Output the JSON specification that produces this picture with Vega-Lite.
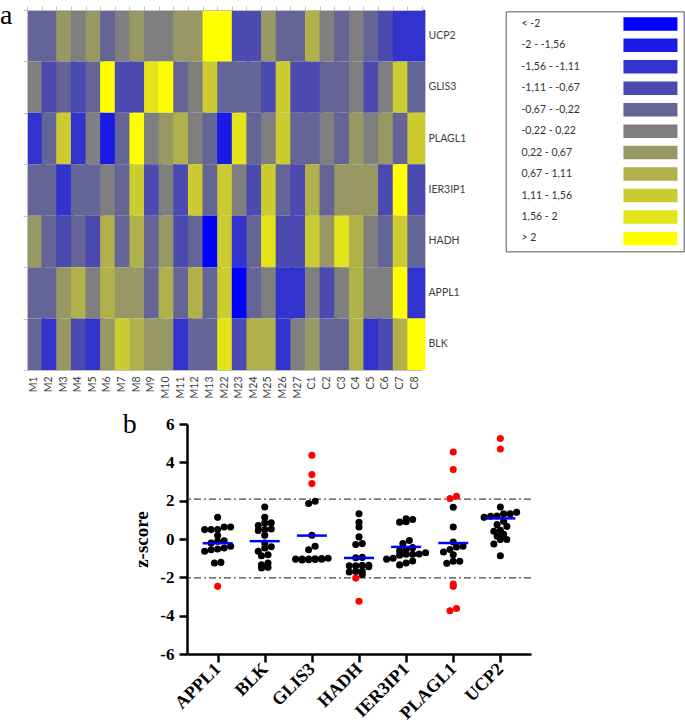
{
  "$schema": "https://vega.github.io/schema/vega-lite/v6.json",
  "padding": {"left": 0, "top": 1, "right": 0, "bottom": 0},
  "config": {"view": {"stroke": null}, "font": "Lato"},
  "datasets": {
    "bins": [
      {"k": 0, "range": "< -2"}, {"k": 1, "range": "-2 - -1,56"}, {"k": 2, "range": "-1,56 - -1,11"},
      {"k": 3, "range": "-1,11 - -0,67"}, {"k": 4, "range": "-0,67 - -0,22"}, {"k": 5, "range": "-0,22 - 0,22"},
      {"k": 6, "range": "0,22 - 0,67"}, {"k": 7, "range": "0,67 - 1,11"}, {"k": 8, "range": "1,11 - 1,56"},
      {"k": 9, "range": "1,56 - 2"}, {"k": 10, "range": "> 2"}
    ],
    "samples": [
      {"s": "M1", "UCP2": 4, "GLIS3": 5, "PLAGL1": 2, "IER3IP1": 4, "HADH": 6, "APPL1": 4, "BLK": 4},
      {"s": "M2", "UCP2": 4, "GLIS3": 3, "PLAGL1": 4, "IER3IP1": 4, "HADH": 4, "APPL1": 4, "BLK": 2},
      {"s": "M3", "UCP2": 6, "GLIS3": 4, "PLAGL1": 8, "IER3IP1": 2, "HADH": 3, "APPL1": 6, "BLK": 6},
      {"s": "M4", "UCP2": 5, "GLIS3": 3, "PLAGL1": 2, "IER3IP1": 4, "HADH": 4, "APPL1": 7, "BLK": 3},
      {"s": "M5", "UCP2": 6, "GLIS3": 4, "PLAGL1": 5, "IER3IP1": 4, "HADH": 3, "APPL1": 5, "BLK": 2},
      {"s": "M6", "UCP2": 4, "GLIS3": 10, "PLAGL1": 1, "IER3IP1": 5, "HADH": 7, "APPL1": 7, "BLK": 6},
      {"s": "M7", "UCP2": 5, "GLIS3": 3, "PLAGL1": 4, "IER3IP1": 4, "HADH": 4, "APPL1": 6, "BLK": 8},
      {"s": "M8", "UCP2": 6, "GLIS3": 3, "PLAGL1": 10, "IER3IP1": 8, "HADH": 7, "APPL1": 6, "BLK": 7},
      {"s": "M9", "UCP2": 5, "GLIS3": 9, "PLAGL1": 5, "IER3IP1": 3, "HADH": 4, "APPL1": 4, "BLK": 6},
      {"s": "M10", "UCP2": 5, "GLIS3": 10, "PLAGL1": 6, "IER3IP1": 5, "HADH": 6, "APPL1": 7, "BLK": 6},
      {"s": "M11", "UCP2": 6, "GLIS3": 4, "PLAGL1": 7, "IER3IP1": 3, "HADH": 3, "APPL1": 4, "BLK": 2},
      {"s": "M12", "UCP2": 6, "GLIS3": 5, "PLAGL1": 5, "IER3IP1": 8, "HADH": 4, "APPL1": 7, "BLK": 4},
      {"s": "M13", "UCP2": 10, "GLIS3": 8, "PLAGL1": 4, "IER3IP1": 4, "HADH": 0, "APPL1": 4, "BLK": 4},
      {"s": "M22", "UCP2": 10, "GLIS3": 4, "PLAGL1": 1, "IER3IP1": 8, "HADH": 8, "APPL1": 8, "BLK": 9},
      {"s": "M23", "UCP2": 3, "GLIS3": 4, "PLAGL1": 9, "IER3IP1": 5, "HADH": 2, "APPL1": 0, "BLK": 3},
      {"s": "M24", "UCP2": 3, "GLIS3": 4, "PLAGL1": 4, "IER3IP1": 3, "HADH": 4, "APPL1": 4, "BLK": 7},
      {"s": "M25", "UCP2": 6, "GLIS3": 3, "PLAGL1": 5, "IER3IP1": 8, "HADH": 9, "APPL1": 5, "BLK": 7},
      {"s": "M26", "UCP2": 4, "GLIS3": 8, "PLAGL1": 8, "IER3IP1": 4, "HADH": 3, "APPL1": 2, "BLK": 2},
      {"s": "M27", "UCP2": 4, "GLIS3": 3, "PLAGL1": 4, "IER3IP1": 3, "HADH": 3, "APPL1": 2, "BLK": 5},
      {"s": "C1", "UCP2": 7, "GLIS3": 3, "PLAGL1": 4, "IER3IP1": 7, "HADH": 8, "APPL1": 5, "BLK": 6},
      {"s": "C2", "UCP2": 5, "GLIS3": 4, "PLAGL1": 5, "IER3IP1": 4, "HADH": 6, "APPL1": 3, "BLK": 4},
      {"s": "C3", "UCP2": 4, "GLIS3": 4, "PLAGL1": 4, "IER3IP1": 6, "HADH": 9, "APPL1": 5, "BLK": 4},
      {"s": "C4", "UCP2": 5, "GLIS3": 5, "PLAGL1": 6, "IER3IP1": 6, "HADH": 7, "APPL1": 7, "BLK": 7},
      {"s": "C5", "UCP2": 4, "GLIS3": 3, "PLAGL1": 5, "IER3IP1": 6, "HADH": 5, "APPL1": 5, "BLK": 2},
      {"s": "C6", "UCP2": 3, "GLIS3": 5, "PLAGL1": 6, "IER3IP1": 3, "HADH": 4, "APPL1": 5, "BLK": 3},
      {"s": "C7", "UCP2": 2, "GLIS3": 8, "PLAGL1": 4, "IER3IP1": 10, "HADH": 8, "APPL1": 10, "BLK": 7},
      {"s": "C8", "UCP2": 2, "GLIS3": 4, "PLAGL1": 8, "IER3IP1": 3, "HADH": 4, "APPL1": 2, "BLK": 10}
    ],
    "scores": [
      {"g": "APPL1", "z": 1.13}, {"g": "APPL1", "z": 0.63}, {"g": "APPL1", "z": 0.63}, {"g": "APPL1", "z": 0.49},
      {"g": "APPL1", "z": 0.49}, {"g": "APPL1", "z": 0.49}, {"g": "APPL1", "z": 0.18}, {"g": "APPL1", "z": -0.09},
      {"g": "APPL1", "z": -0.12}, {"g": "APPL1", "z": -0.21}, {"g": "APPL1", "z": -0.38}, {"g": "APPL1", "z": -0.64},
      {"g": "APPL1", "z": -0.56}, {"g": "APPL1", "z": -0.52}, {"g": "APPL1", "z": -0.47}, {"g": "APPL1", "z": -1.25},
      {"g": "APPL1", "z": -1.22}, {"g": "APPL1", "z": -2.47},
      {"g": "BLK", "z": 1.67}, {"g": "BLK", "z": 1.13}, {"g": "BLK", "z": 0.84}, {"g": "BLK", "z": 0.84},
      {"g": "BLK", "z": 0.70}, {"g": "BLK", "z": 0.52}, {"g": "BLK", "z": 0.49}, {"g": "BLK", "z": 0.45},
      {"g": "BLK", "z": 0.20}, {"g": "BLK", "z": -0.21}, {"g": "BLK", "z": -0.47}, {"g": "BLK", "z": -0.40},
      {"g": "BLK", "z": -0.87}, {"g": "BLK", "z": -0.82}, {"g": "BLK", "z": -0.64}, {"g": "BLK", "z": -1.34},
      {"g": "BLK", "z": -1.25}, {"g": "BLK", "z": -1.48}, {"g": "BLK", "z": -1.51},
      {"g": "GLIS3", "z": 4.37}, {"g": "GLIS3", "z": 3.36}, {"g": "GLIS3", "z": 2.89}, {"g": "GLIS3", "z": 1.97},
      {"g": "GLIS3", "z": 1.85}, {"g": "GLIS3", "z": 0.2}, {"g": "GLIS3", "z": -0.38}, {"g": "GLIS3", "z": -0.56},
      {"g": "GLIS3", "z": -1.0}, {"g": "GLIS3", "z": -1.02}, {"g": "GLIS3", "z": -1.03}, {"g": "GLIS3", "z": -1.04},
      {"g": "GLIS3", "z": -1.05}, {"g": "GLIS3", "z": -1.05}, {"g": "GLIS3", "z": -1.06}, {"g": "GLIS3", "z": -1.07},
      {"g": "GLIS3", "z": -1.08}, {"g": "GLIS3", "z": -1.1},
      {"g": "HADH", "z": 1.32}, {"g": "HADH", "z": 0.87}, {"g": "HADH", "z": 0.63}, {"g": "HADH", "z": 0.11},
      {"g": "HADH", "z": -0.24}, {"g": "HADH", "z": -0.29}, {"g": "HADH", "z": -0.96}, {"g": "HADH", "z": -0.98},
      {"g": "HADH", "z": -1.37}, {"g": "HADH", "z": -1.40}, {"g": "HADH", "z": -1.40}, {"g": "HADH", "z": -1.37},
      {"g": "HADH", "z": -1.45}, {"g": "HADH", "z": -1.69}, {"g": "HADH", "z": -1.72}, {"g": "HADH", "z": -1.69},
      {"g": "HADH", "z": -1.85}, {"g": "HADH", "z": -2.04}, {"g": "HADH", "z": -3.25},
      {"g": "IER3IP1", "z": 1.02}, {"g": "IER3IP1", "z": 1.06}, {"g": "IER3IP1", "z": 0.90}, {"g": "IER3IP1", "z": 0.88},
      {"g": "IER3IP1", "z": -0.08}, {"g": "IER3IP1", "z": -0.24}, {"g": "IER3IP1", "z": -0.45}, {"g": "IER3IP1", "z": -0.55},
      {"g": "IER3IP1", "z": -0.72}, {"g": "IER3IP1", "z": -0.80}, {"g": "IER3IP1", "z": -0.85}, {"g": "IER3IP1", "z": -0.78},
      {"g": "IER3IP1", "z": -0.80}, {"g": "IER3IP1", "z": -1.05}, {"g": "IER3IP1", "z": -1.0}, {"g": "IER3IP1", "z": -1.25},
      {"g": "IER3IP1", "z": -1.15}, {"g": "IER3IP1", "z": -1.35}, {"g": "IER3IP1", "z": -0.62},
      {"g": "PLAGL1", "z": 4.54}, {"g": "PLAGL1", "z": 3.62}, {"g": "PLAGL1", "z": 2.23}, {"g": "PLAGL1", "z": 2.11},
      {"g": "PLAGL1", "z": -2.47}, {"g": "PLAGL1", "z": -2.35}, {"g": "PLAGL1", "z": -3.74}, {"g": "PLAGL1", "z": -3.63},
      {"g": "PLAGL1", "z": 1.66}, {"g": "PLAGL1", "z": 0.63}, {"g": "PLAGL1", "z": -0.16}, {"g": "PLAGL1", "z": -0.38},
      {"g": "PLAGL1", "z": -0.42}, {"g": "PLAGL1", "z": -0.55}, {"g": "PLAGL1", "z": -0.68}, {"g": "PLAGL1", "z": -0.82},
      {"g": "PLAGL1", "z": -1.27}, {"g": "PLAGL1", "z": -1.16}, {"g": "PLAGL1", "z": -1.16},
      {"g": "UCP2", "z": 5.24}, {"g": "UCP2", "z": 4.70}, {"g": "UCP2", "z": 1.67}, {"g": "UCP2", "z": 1.39},
      {"g": "UCP2", "z": 1.31}, {"g": "UCP2", "z": 1.13}, {"g": "UCP2", "z": 1.19}, {"g": "UCP2", "z": 1.31},
      {"g": "UCP2", "z": 1.20}, {"g": "UCP2", "z": 0.92}, {"g": "UCP2", "z": 0.75}, {"g": "UCP2", "z": 0.66},
      {"g": "UCP2", "z": 0.45}, {"g": "UCP2", "z": 0.40}, {"g": "UCP2", "z": 0.25}, {"g": "UCP2", "z": 0.14},
      {"g": "UCP2", "z": -0.03}, {"g": "UCP2", "z": -0.03}, {"g": "UCP2", "z": -0.26}, {"g": "UCP2", "z": -0.87}
    ]
  },
  "spacing": 13,
  "vconcat": [
    {
      "width": 395,
      "height": 360,
      "data": {"name": "samples"},
      "transform": [
        {"fold": ["UCP2", "GLIS3", "PLAGL1", "IER3IP1", "HADH", "APPL1", "BLK"], "as": ["gene", "k"]},
        {"lookup": "k", "from": {"data": {"name": "bins"}, "key": "k", "fields": ["range"]}}
      ],
      "title": {"text": "a", "anchor": "start", "frame": "group", "font": "Liberation Serif", "fontSize": 28, "fontWeight": "normal", "color": "black", "baseline": "alphabetic", "dx": -27, "dy": 46, "offset": 0},
      "layer": [
        {
          "mark": {"type": "rect"},
          "encoding": {
            "x": {"field": "s", "type": "nominal", "sort": null,
              "axis": {"orient": "bottom", "title": null, "labelAngle": -90, "labelFont": "Lato", "labelFontSize": 10.5, "labelColor": "#404040", "ticks": false, "domainColor": "#c0c0c0", "labelPadding": 6}},
            "y": {"field": "gene", "type": "nominal", "sort": ["UCP2", "GLIS3", "PLAGL1", "IER3IP1", "HADH", "APPL1", "BLK"],
              "axis": {"orient": "right", "title": null, "ticks": false, "domain": false, "labelFont": "Lato", "labelFontSize": 10.5, "labelColor": "#404040", "labelPadding": 6}},
            "color": {"field": "range", "type": "nominal",
              "scale": {
                "domain": ["< -2", "-2 - -1,56", "-1,56 - -1,11", "-1,11 - -0,67", "-0,67 - -0,22", "-0,22 - 0,22", "0,22 - 0,67", "0,67 - 1,11", "1,11 - 1,56", "1,56 - 2", "> 2"],
                "range": ["#0000ff", "#1a1ae6", "#3232cc", "#4a4ab0", "#646496", "#7f7f7f", "#989864", "#b1b14b", "#cbcb32", "#e4e41a", "#ffff00"]
              },
              "legend": {
                "title": null, "orient": "none", "legendX": 478.7, "legendY": 1.4,
                "padding": 5.5, "strokeColor": "#555555",
                "symbolType": "M-4,-1H4V1H-4Z", "symbolSize": 182.25, "symbolStrokeWidth": 0, "symbolOpacity": 1,
                "rowPadding": 7.45,
                "labelFont": "Lato", "labelFontSize": 10.5, "labelColor": "#333333", "labelOffset": -136, "symbolOffset": 132.25, "labelLimit": 200
              }
            }
          }
        },
        {
          "mark": {"type": "rect", "opacity": 0},
          "encoding": {
            "x": {"field": "s", "type": "nominal", "sort": null,
              "axis": {"orient": "top", "title": null, "labels": false, "tickBand": "extent", "tickSize": 4, "tickColor": "#c0c0c0", "domainColor": "#c0c0c0"}},
            "y": {"field": "gene", "type": "nominal", "sort": ["UCP2", "GLIS3", "PLAGL1", "IER3IP1", "HADH", "APPL1", "BLK"],
              "axis": {"orient": "left", "title": null, "labels": false, "tickBand": "extent", "tickSize": 4, "tickColor": "#c0c0c0", "domainColor": "#c0c0c0"}}
          }
        }
      ],
      "resolve": {"axis": {"x": "independent", "y": "independent"}}
    },
    {
      "spacing": 0,
      "hconcat": [
        {"width": 95, "height": 10, "data": {"values": []}, "mark": "point"},
        {
          "width": 344,
          "height": 230,
          "data": {"name": "scores"},
          "title": {"text": "b", "anchor": "start", "frame": "bounds", "font": "Liberation Serif", "fontSize": 28, "fontWeight": "normal", "color": "black", "baseline": "alphabetic", "dx": -10, "dy": 46, "offset": 0},
          "encoding": {
            "y": {"field": "z", "type": "quantitative", "title": "z-score",
              "scale": {"domain": [-6, 6], "nice": false, "zero": false},
              "axis": {"values": [-6, -4, -2, 0, 2, 4, 6], "grid": false, "labelExpr": "'' + datum.value",
                "labelFont": "Liberation Serif", "labelFontWeight": "bold", "labelFontSize": 17, "labelColor": "black",
                "tickSize": 8, "tickWidth": 2.5, "tickColor": "black", "domainColor": "black", "domainWidth": 2.5, "labelPadding": 5,
                "titleFont": "Liberation Serif", "titleFontWeight": "bold", "titleFontSize": 19, "titleColor": "black", "titlePadding": 8}}
          },
          "layer": [
            {
              "data": {"values": [{"z": 2.08}, {"z": -2.03}]},
              "mark": {"type": "rule", "strokeDash": [7, 3, 2, 3], "color": "#444444", "strokeWidth": 1.2},
              "encoding": {}
            },
            {
              "transform": [
                {"bin": {"step": 0.35, "anchor": 0}, "field": "z", "as": "zb"},
                {"window": [{"op": "row_number", "as": "i"}, {"op": "count", "as": "n"}], "groupby": ["g", "zb"], "sort": [{"field": "z"}], "frame": [null, null]},
                {"calculate": "datum.i - (datum.n + 1) / 2", "as": "off"}
              ],
              "mark": {"type": "circle", "size": 50, "opacity": 1},
              "encoding": {
                "x": {"field": "g", "type": "nominal", "scale": {"type": "point", "padding": 0.65},
                  "axis": {"title": null, "labelAngle": -45, "labelAlign": "right", "labelBaseline": "middle", "labelFont": "Liberation Serif", "labelFontWeight": "bold", "labelFontSize": 18, "labelColor": "black",
                    "tickSize": 8, "tickWidth": 2.5, "tickColor": "black", "domainColor": "black", "domainWidth": 2.5, "labelPadding": 4}},
                "xOffset": {"field": "off", "type": "quantitative", "scale": {"domain": [-5, 5], "range": [-32.5, 32.5]}},
                "color": {"condition": {"test": "abs(datum.z) > 2", "value": "#ff0000"}, "value": "#000000"}
              }
            },
            {
              "transform": [{"aggregate": [{"op": "mean", "field": "z", "as": "z"}], "groupby": ["g"]}],
              "mark": {"type": "tick", "color": "#0000ff", "thickness": 2.5, "size": 30, "opacity": 1},
              "encoding": {
                "x": {"field": "g", "type": "nominal", "scale": {"type": "point", "padding": 0.65},
                  "axis": {"title": null, "labelAngle": -45, "labelAlign": "right", "labelBaseline": "middle", "labelFont": "Liberation Serif", "labelFontWeight": "bold", "labelFontSize": 18, "labelColor": "black",
                    "tickSize": 8, "tickWidth": 2.5, "tickColor": "black", "domainColor": "black", "domainWidth": 2.5, "labelPadding": 4}}
              }
            }
          ]
        }
      ]
    }
  ]
}
